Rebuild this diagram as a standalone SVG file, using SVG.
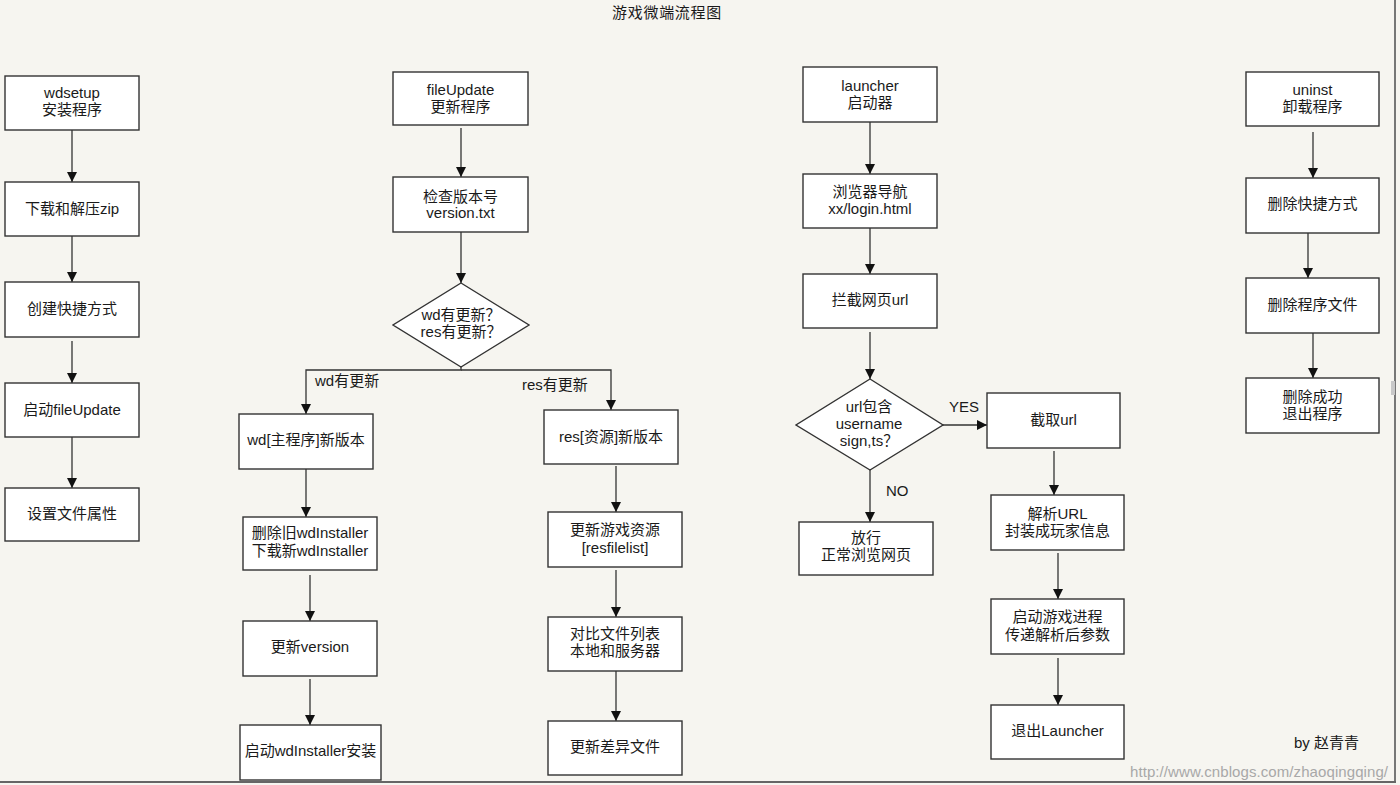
<svg xmlns="http://www.w3.org/2000/svg" width="1400" height="785" viewBox="0 0 1400 785">
<defs>
<marker id="arr" markerUnits="userSpaceOnUse" markerWidth="10" markerHeight="10" refX="10" refY="5" orient="auto"><path d="M0,0 L10,5 L0,10 z" fill="#111"/></marker>
<style>
.b{fill:#fff;stroke:#333;stroke-width:1.4}
.t{font-family:"Liberation Sans","Noto Sans CJK SC",sans-serif;font-size:15px;fill:#1a1a1a;text-anchor:middle}
.l{font-family:"Liberation Sans","Noto Sans CJK SC",sans-serif;font-size:15px;fill:#1a1a1a}
.c{fill:none;stroke:#333;stroke-width:1.3;marker-end:url(#arr)}
</style>
</defs>
<rect width="1400" height="785" fill="#f6f5f0"/>
<line x1="1395" y1="0" x2="1395" y2="783" stroke="#777" stroke-width="2"/>
<line x1="0" y1="782" x2="1396" y2="782" stroke="#666" stroke-width="2"/>
<rect x="1391" y="381" width="4" height="14" fill="#c8c8c8"/>
<text class="t" x="667" y="18" style="font-family:'Noto Sans CJK SC',sans-serif;font-size:15px;letter-spacing:0.7px">游戏微端流程图</text>

<g id="connectors">
<line class="c" x1="72" y1="130" x2="72" y2="182"/>
<line class="c" x1="72" y1="236" x2="72" y2="282"/>
<line class="c" x1="72" y1="341" x2="72" y2="383"/>
<line class="c" x1="72" y1="437" x2="72" y2="488"/>
<line class="c" x1="461" y1="128" x2="461" y2="177"/>
<line class="c" x1="461" y1="232" x2="461" y2="283"/>
<path class="c" d="M461,367 V370 H306 V414"/>
<path class="c" d="M461,370 H611 V410"/>
<line class="c" x1="306" y1="469" x2="306" y2="517"/>
<line class="c" x1="310" y1="575" x2="310" y2="621"/>
<line class="c" x1="310" y1="679" x2="310" y2="725"/>
<line class="c" x1="616" y1="466" x2="616" y2="512"/>
<line class="c" x1="616" y1="570" x2="616" y2="617"/>
<line class="c" x1="616" y1="671" x2="616" y2="721"/>
<line class="c" x1="870" y1="122" x2="870" y2="174"/>
<line class="c" x1="870" y1="228" x2="870" y2="274"/>
<line class="c" x1="870" y1="332" x2="870" y2="379"/>
<line class="c" x1="943" y1="425" x2="987" y2="425"/>
<line class="c" x1="870" y1="470" x2="870" y2="522"/>
<line class="c" x1="1054" y1="451" x2="1054" y2="495"/>
<line class="c" x1="1058" y1="553" x2="1058" y2="599"/>
<line class="c" x1="1058" y1="658" x2="1058" y2="705"/>
<line class="c" x1="1313" y1="132" x2="1313" y2="178"/>
<line class="c" x1="1308" y1="233" x2="1308" y2="278"/>
<line class="c" x1="1313" y1="333" x2="1313" y2="378"/>
<text class="l" x="315" y="386">wd有更新</text>
<text class="l" x="522" y="390">res有更新</text>
<text class="l" x="949" y="412">YES</text>
<text class="l" x="886" y="496">NO</text>
</g>

<g id="wdsetup"><rect class="b" x="5" y="76" width="134" height="54"/><text class="t" x="72" y="98">wdsetup</text><text class="t" x="72" y="115">安装程序</text></g>
<g id="download"><rect class="b" x="5" y="182" width="134" height="54"/><text class="t" x="72" y="214">下载和解压zip</text></g>
<g id="shortcut"><rect class="b" x="5" y="282" width="134" height="55"/><text class="t" x="72" y="314">创建快捷方式</text></g>
<g id="startFileUpdate"><rect class="b" x="5" y="383" width="134" height="54"/><text class="t" x="72" y="415">启动fileUpdate</text></g>
<g id="setAttr"><rect class="b" x="5" y="488" width="134" height="53"/><text class="t" x="72" y="519">设置文件属性</text></g>

<g id="fileUpdate"><rect class="b" x="393" y="72" width="135" height="53"/><text class="t" x="460.5" y="95">fileUpdate</text><text class="t" x="460.5" y="112">更新程序</text></g>
<g id="checkVersion"><rect class="b" x="393" y="177" width="135" height="55"/><text class="t" x="460.5" y="202">检查版本号</text><text class="t" x="460.5" y="218">version.txt</text></g>
<g id="decision1"><polygon class="b" points="461,283 529,325 461,367 393,325"/><text class="t" x="461" y="320">wd有更新？</text><text class="t" x="461" y="337">res有更新？</text></g>
<g id="wdNew"><rect class="b" x="239" y="414" width="134" height="55"/><text class="t" x="306" y="445">wd[主程序]新版本</text></g>
<g id="delInstaller"><rect class="b" x="243" y="517" width="134" height="53"/><text class="t" x="310" y="538">删除旧wdInstaller</text><text class="t" x="310" y="556">下载新wdInstaller</text></g>
<g id="updVersion"><rect class="b" x="243" y="621" width="134" height="55"/><text class="t" x="310" y="652">更新version</text></g>
<g id="startInstaller"><rect class="b" x="240" y="725" width="141" height="55"/><text class="t" x="310.5" y="756">启动wdInstaller安装</text></g>
<g id="resNew"><rect class="b" x="544" y="410" width="134" height="54"/><text class="t" x="611" y="442">res[资源]新版本</text></g>
<g id="updRes"><rect class="b" x="548" y="512" width="134" height="55"/><text class="t" x="615" y="535">更新游戏资源</text><text class="t" x="615" y="553">[resfilelist]</text></g>
<g id="compare"><rect class="b" x="548" y="617" width="134" height="54"/><text class="t" x="615" y="639">对比文件列表</text><text class="t" x="615" y="656">本地和服务器</text></g>
<g id="updDiff"><rect class="b" x="548" y="721" width="134" height="54"/><text class="t" x="615" y="752">更新差异文件</text></g>

<g id="launcher"><rect class="b" x="803" y="67" width="134" height="55"/><text class="t" x="870" y="91">launcher</text><text class="t" x="870" y="108">启动器</text></g>
<g id="browser"><rect class="b" x="803" y="174" width="134" height="54"/><text class="t" x="870" y="197">浏览器导航</text><text class="t" x="870" y="214">xx/login.html</text></g>
<g id="intercept"><rect class="b" x="803" y="274" width="134" height="54"/><text class="t" x="870" y="305">拦截网页url</text></g>
<g id="decision2"><polygon class="b" points="870,379 943,425 870,470 796,425"/><text class="t" x="869" y="412">url包含</text><text class="t" x="869" y="429">username</text><text class="t" x="869" y="446">sign,ts？</text></g>
<g id="cutUrl"><rect class="b" x="987" y="393" width="133" height="55"/><text class="t" x="1053.5" y="425">截取url</text></g>
<g id="pass"><rect class="b" x="799" y="522" width="134" height="53"/><text class="t" x="866" y="543">放行</text><text class="t" x="866" y="560">正常浏览网页</text></g>
<g id="parse"><rect class="b" x="991" y="495" width="133" height="55"/><text class="t" x="1057.5" y="519">解析URL</text><text class="t" x="1057.5" y="536">封装成玩家信息</text></g>
<g id="startGame"><rect class="b" x="991" y="599" width="133" height="55"/><text class="t" x="1057.5" y="622">启动游戏进程</text><text class="t" x="1057.5" y="640">传递解析后参数</text></g>
<g id="exitLauncher"><rect class="b" x="991" y="705" width="133" height="54"/><text class="t" x="1057.5" y="736">退出Launcher</text></g>

<g id="uninst"><rect class="b" x="1246" y="72" width="133" height="54"/><text class="t" x="1312.5" y="95">uninst</text><text class="t" x="1312.5" y="112">卸载程序</text></g>
<g id="delShortcut"><rect class="b" x="1246" y="178" width="133" height="55"/><text class="t" x="1312.5" y="209">删除快捷方式</text></g>
<g id="delFiles"><rect class="b" x="1246" y="278" width="133" height="55"/><text class="t" x="1312.5" y="310">删除程序文件</text></g>
<g id="delDone"><rect class="b" x="1246" y="378" width="133" height="55"/><text class="t" x="1312.5" y="402">删除成功</text><text class="t" x="1312.5" y="419">退出程序</text></g>

<text class="l" x="1294" y="748">by 赵青青</text>
<text class="l" x="1130" y="777" textLength="258" style="fill:#a8a8a8;font-size:15px">http://www.cnblogs.com/zhaoqingqing/</text>
</svg>
